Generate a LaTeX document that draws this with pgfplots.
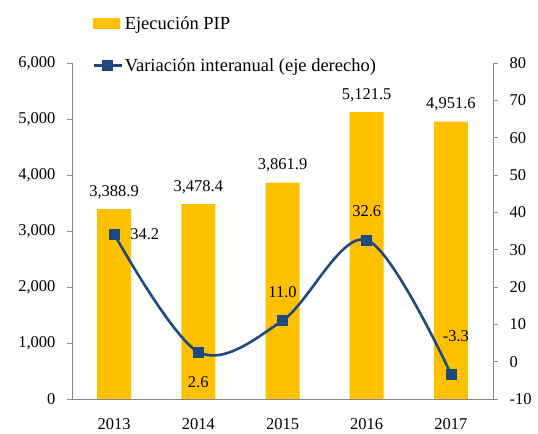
\documentclass[border=0pt]{standalone}
\usepackage{fontspec}
\setmainfont{Liberation Serif}
\usepackage{pgfplots}
\pgfplotsset{compat=1.18}
\definecolor{barc}{HTML}{FFC000}
\definecolor{linec}{HTML}{1F497D}
\definecolor{axc}{HTML}{868686}
\newcommand{\fs}{\fontsize{16.5bp}{19bp}\selectfont}
\pgfplotsset{
  common/.style={
    at={(0,0)}, anchor=south west, scale only axis,
    width=421bp, height=336bp,
    xmin=-0.5, xmax=4.5,
    tick align=outside,
    major tick length=5bp,
    axis line style={axc, line width=0.8bp},
    tick style={axc, line width=0.8bp},
    tick label style={font=\fs, text=black},
    /pgf/number format/assume math mode=true,
    /pgf/number format/1000 sep={,},
  },
  barlegend/.style={legend image code/.code={\fill[barc] (0bp,-5bp) rectangle (26bp,5bp);}},
  linelegend/.style={legend image code/.code={\draw[mark repeat=2,mark phase=2,##1] plot coordinates {(0bp,0bp)(14bp,0bp)(28bp,0bp)};}},
  lbl/.style={draw=none, mark=none, point meta=explicit symbolic, nodes near coords, forget plot,
    every node near coord/.append style={font=\fs, text=black, inner sep=2bp, #1}},
}
\begin{document}
\begin{tikzpicture}
\path[use as bounding box] (-72bp,-35bp) rectangle (466bp,399bp);
\begin{axis}[common,
  axis y line*=left, axis x line*=bottom,
  ymin=0, ymax=6000, ytick={0,1000,...,6000},
  yticklabel style={xshift=-8bp},
  xtick={0,1,2,3,4}, xticklabels={2013,2014,2015,2016,2017},
  x tick style={draw=none},
  xticklabel style={yshift=-11bp},
  extra x ticks={-0.5,0.5,1.5,2.5,3.5,4.5},
  extra x tick labels={},
  extra x tick style={tick style={axc, line width=0.8bp}, major tick length=5bp},
  ybar, bar width=34bp,
  nodes near coords={\pgfmathprintnumber[fixed,fixed zerofill,precision=1,1000 sep={,},assume math mode=true]{\pgfplotspointmeta}},
  every node near coord/.append style={font=\fs, text=black, anchor=south, inner sep=2bp, yshift=8bp},
]
\addplot[fill=barc, draw=none] coordinates {(0,3388.9) (1,3478.4) (2,3861.9) (3,5121.5) (4,4951.6)};
\end{axis}
\begin{axis}[common,
  axis y line*=right, axis x line=none,
  ymin=-10, ymax=80, ytick={-10,0,...,80},
  yticklabel style={xshift=8bp},
  legend style={at={(20bp,385bp)}, anchor=north west, draw=none, fill=none, inner sep=0pt,
    font=\fontsize{18.5bp}{21bp}\selectfont, row sep=24bp,
    nodes={inner sep=2bp}},
  legend cell align=left,
  legend columns=1,
]
\addlegendimage{barlegend}
\addlegendentry{Ejecución PIP}
\addplot[linec, line width=2.6bp, smooth, tension=0.55, mark=square*, mark size=5bp,
  mark options={linec, solid, line width=0.5bp}, linelegend]
  coordinates {(0,34.2) (1,2.6) (2,11.0) (3,32.6) (4,-3.3)};
\addlegendentry{Variación interanual (eje derecho)}
\addplot[lbl={anchor=west, xshift=14bp}] coordinates {(0,34.2) [34.2]};
\addplot[lbl={anchor=north, yshift=-22bp}] coordinates {(1,2.6) [2.6]};
\addplot[lbl={anchor=south, yshift=21bp}] coordinates {(2,11.0) [11.0] (3,32.6) [32.6]};
\addplot[lbl={anchor=south, yshift=30bp, xshift=5bp}] coordinates {(4,-3.3) [-3.3]};
\end{axis}
\end{tikzpicture}
\end{document}
